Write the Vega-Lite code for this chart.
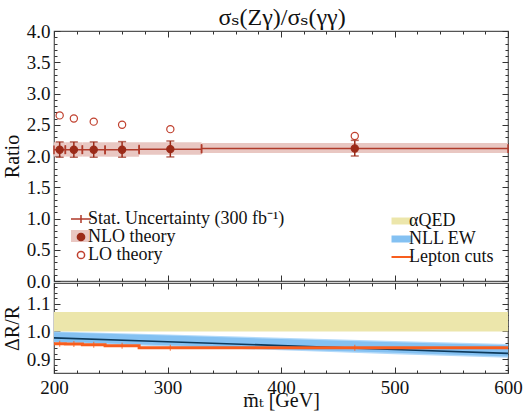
{
  "$schema": "https://vega.github.io/schema/vega-lite/v6.json",
  "background": "white",
  "padding": {"left": 1, "top": 6, "right": 4, "bottom": 0},
  "title": {"text": "σₛ(Zγ)/σₛ(γγ)", "font": "Liberation Serif, DejaVu Serif, serif", "fontSize": 24, "fontWeight": "normal", "color": "#111", "anchor": "middle", "offset": -9, "dx": 20},
  "config": {
    "font": "Liberation Serif",
    "title": {"font": "Liberation Serif, DejaVu Serif, serif"},
    "view": {"stroke": "#555", "strokeWidth": 1.2},
    "axis": {"labelFont": "Liberation Serif", "labelFontSize": 19, "labelColor": "#111", "titleFont": "Liberation Serif, DejaVu Serif, serif", "titleFontSize": 20, "titleFontWeight": "normal", "titleColor": "#111", "domain": false, "grid": false, "tickColor": "#333", "tickWidth": 1, "minExtent": 0, "labelPadding": 10, "labelFlush": false},
    "legend": {"labelFont": "Liberation Serif", "labelFontSize": 18, "labelColor": "#111", "labelLimit": 400, "symbolSize": 100, "padding": 0, "rowPadding": 0, "labelOffset": -2}
  },
  "datasets": {
    "bins": [
      {"x": 205, "x0": 200, "x1": 210, "nlo": 2.10, "blo": 1.99, "bhi": 2.22, "elo": 1.98, "ehi": 2.225, "slo": 2.03, "shi": 2.17},
      {"x": 217.5, "x0": 210, "x1": 225, "nlo": 2.10, "blo": 1.99, "bhi": 2.22, "elo": 1.98, "ehi": 2.225, "slo": 2.03, "shi": 2.17},
      {"x": 235, "x0": 225, "x1": 245, "nlo": 2.10, "blo": 1.99, "bhi": 2.22, "elo": 1.98, "ehi": 2.225, "slo": 2.03, "shi": 2.17},
      {"x": 260, "x0": 245, "x1": 275, "nlo": 2.10, "blo": 1.99, "bhi": 2.22, "elo": 1.98, "ehi": 2.23, "slo": 2.03, "shi": 2.17},
      {"x": 302.5, "x0": 275, "x1": 330, "nlo": 2.11, "blo": 2.02, "bhi": 2.22, "elo": 1.985, "ehi": 2.24, "slo": 2.04, "shi": 2.18},
      {"x": 465, "x0": 330, "x1": 600, "nlo": 2.12, "blo": 2.05, "bhi": 2.21, "elo": 2.0, "ehi": 2.25, "slo": 2.05, "shi": 2.19}
    ],
    "pts": [
      {"series": "NLO theory", "x": 205, "y": 2.10},
      {"series": "NLO theory", "x": 217.5, "y": 2.10},
      {"series": "NLO theory", "x": 235, "y": 2.10},
      {"series": "NLO theory", "x": 260, "y": 2.10},
      {"series": "NLO theory", "x": 302.5, "y": 2.11},
      {"series": "NLO theory", "x": 465, "y": 2.12},
      {"series": "LO theory", "x": 205, "y": 2.65},
      {"series": "LO theory", "x": 217.5, "y": 2.60},
      {"series": "LO theory", "x": 235, "y": 2.55},
      {"series": "LO theory", "x": 260, "y": 2.50},
      {"series": "LO theory", "x": 302.5, "y": 2.43},
      {"series": "LO theory", "x": 465, "y": 2.32}
    ],
    "alpha": [
      {"series": "αQED", "x0": 200, "x1": 600, "lo": 1.0, "hi": 1.07}
    ],
    "nll": [
      {"series": "NLL EW", "x": 200, "mid": 0.977, "ilo": 0.963, "ihi": 0.997, "olo": 0.960, "ohi": 1.0},
      {"series": "NLL EW", "x": 300, "mid": 0.963, "ilo": 0.950, "ihi": 0.985, "olo": 0.946, "ohi": 0.989},
      {"series": "NLL EW", "x": 400, "mid": 0.949, "ilo": 0.936, "ihi": 0.973, "olo": 0.932, "ohi": 0.977},
      {"series": "NLL EW", "x": 500, "mid": 0.935, "ilo": 0.923, "ihi": 0.961, "olo": 0.918, "ohi": 0.966},
      {"series": "NLL EW", "x": 600, "mid": 0.921, "ilo": 0.910, "ihi": 0.950, "olo": 0.905, "ohi": 0.955}
    ],
    "lep": [
      {"x": 200, "y": 0.956},
      {"x": 210, "y": 0.955},
      {"x": 225, "y": 0.952},
      {"x": 245, "y": 0.948},
      {"x": 275, "y": 0.941},
      {"x": 330, "y": 0.941},
      {"x": 600, "y": 0.941}
    ],
    "lepm": [
      {"x": 205, "y": 0.956},
      {"x": 217.5, "y": 0.955},
      {"x": 235, "y": 0.952},
      {"x": 260, "y": 0.948},
      {"x": 302.5, "y": 0.941},
      {"x": 465, "y": 0.941}
    ]
  },
  "spacing": 2,
  "bounds": "flush",
  "resolve": {
    "scale": {"fill": "independent", "stroke": "independent", "opacity": "independent", "shape": "independent"},
    "legend": {"fill": "independent", "stroke": "independent", "opacity": "independent", "shape": "independent"}
  },
  "vconcat": [
    {
      "width": 454,
      "height": 250,
      "layer": [
        {
          "data": {"name": "bins"},
          "mark": {"type": "rect", "color": "#e9c7c2"},
          "encoding": {
            "x": {"field": "x0", "type": "quantitative", "scale": {"domain": [200, 600], "nice": false, "zero": false}, "axis": {"orient": "bottom", "values": [200, 300, 400, 500, 600], "labels": false, "tickSize": -6, "title": null}},
            "x2": {"field": "x1"},
            "y": {"field": "blo", "type": "quantitative", "scale": {"domain": [0, 4], "nice": false, "zero": false}, "axis": {"orient": "left", "values": [0, 0.5, 1, 1.5, 2, 2.5, 3, 3.5, 4], "format": ".1f", "tickSize": -6, "title": "Ratio", "titlePadding": 4, "minExtent": 28, "maxExtent": 28}},
            "y2": {"field": "bhi"},
            "opacity": {"datum": "NLO theory", "type": "ordinal", "scale": {"range": [1]}, "legend": {"orient": "none", "legendX": 18, "legendY": 196, "title": null, "labelExpr": "''", "zindex": 0, "symbolType": "M-2,-1.2H2V1.2H-2Z", "symbolFillColor": "#e9c7c2", "symbolStrokeColor": "#e9c7c2", "symbolStrokeWidth": 0, "symbolSize": 100}}
          }
        },
        {
          "data": {"name": "bins"},
          "mark": {"type": "rule", "color": "#b03a2a", "strokeWidth": 1.5},
          "encoding": {
            "x": {"field": "x0", "type": "quantitative", "axis": {"orient": "top", "values": [200, 300, 400, 500, 600], "labels": false, "tickSize": -6, "title": null}},
            "x2": {"field": "x1"},
            "y": {"field": "nlo", "type": "quantitative", "axis": {"orient": "right", "values": [0, 0.5, 1, 1.5, 2, 2.5, 3, 3.5, 4], "labels": false, "tickSize": -6, "title": null}}
          }
        },
        {
          "data": {"name": "bins"},
          "mark": {"type": "rule", "color": "#b03a2a", "strokeWidth": 1.5},
          "encoding": {
            "x": {"field": "x0", "type": "quantitative", "axis": {"orient": "bottom", "values": [220, 240, 260, 280, 320, 340, 360, 380, 420, 440, 460, 480, 520, 540, 560, 580], "labels": false, "tickSize": -3, "title": null}},
            "y": {"field": "slo", "type": "quantitative", "axis": {"orient": "left", "values": [0.1, 0.2, 0.3, 0.4, 0.6, 0.7, 0.8, 0.9, 1.1, 1.2, 1.3, 1.4, 1.6, 1.7, 1.8, 1.9, 2.1, 2.2, 2.3, 2.4, 2.6, 2.7, 2.8, 2.9, 3.1, 3.2, 3.3, 3.4, 3.6, 3.7, 3.8, 3.9], "labels": false, "tickSize": -3, "title": null}},
            "y2": {"field": "shi"}
          }
        },
        {
          "data": {"name": "bins"},
          "mark": {"type": "rule", "color": "#b03a2a", "strokeWidth": 1.5},
          "encoding": {
            "x": {"field": "x1", "type": "quantitative", "axis": {"orient": "top", "values": [220, 240, 260, 280, 320, 340, 360, 380, 420, 440, 460, 480, 520, 540, 560, 580], "labels": false, "tickSize": -3, "title": null}},
            "y": {"field": "slo", "type": "quantitative", "axis": {"orient": "right", "values": [0.1, 0.2, 0.3, 0.4, 0.6, 0.7, 0.8, 0.9, 1.1, 1.2, 1.3, 1.4, 1.6, 1.7, 1.8, 1.9, 2.1, 2.2, 2.3, 2.4, 2.6, 2.7, 2.8, 2.9, 3.1, 3.2, 3.3, 3.4, 3.6, 3.7, 3.8, 3.9], "labels": false, "tickSize": -3, "title": null}},
            "y2": {"field": "shi"}
          }
        },
        {
          "data": {"name": "bins"},
          "mark": {"type": "rule", "color": "#9b2a18", "strokeWidth": 1.5},
          "encoding": {
            "x": {"field": "x", "type": "quantitative", "axis": null},
            "y": {"field": "elo", "type": "quantitative", "axis": null},
            "y2": {"field": "ehi"}
          }
        },
        {
          "data": {"name": "bins"},
          "mark": {"type": "tick", "color": "#9b2a18", "orient": "horizontal", "size": 8, "thickness": 1.5},
          "encoding": {
            "x": {"field": "x", "type": "quantitative", "axis": null},
            "y": {"field": "elo", "type": "quantitative", "axis": null}
          }
        },
        {
          "data": {"name": "bins"},
          "mark": {"type": "tick", "color": "#9b2a18", "orient": "horizontal", "size": 8, "thickness": 1.5},
          "encoding": {
            "x": {"field": "x", "type": "quantitative", "axis": null},
            "y": {"field": "ehi", "type": "quantitative", "axis": null}
          }
        },
        {
          "data": {"name": "pts"},
          "mark": {"type": "point", "size": 100, "strokeWidth": 1.2, "opacity": 1},
          "encoding": {
            "x": {"field": "x", "type": "quantitative", "axis": null},
            "y": {"field": "y", "type": "quantitative", "axis": null},
            "shape": {"field": "series", "type": "nominal", "scale": {"domain": ["Stat. Uncertainty (300 fb⁻¹)", "NLO theory", "LO theory"], "range": ["M-2,0H2M0,-0.8V0.8", "M0.72,0A0.72,0.72 0 1,1 -0.72,0A0.72,0.72 0 1,1 0.72,0Z", "M0.72,0A0.72,0.72 0 1,1 -0.72,0A0.72,0.72 0 1,1 0.72,0Z"]},
              "legend": {"orient": "none", "legendX": 18, "legendY": 179, "title": null, "zindex": 1, "symbolSize": 100}},
            "fill": {"field": "series", "type": "nominal", "scale": {"domain": ["Stat. Uncertainty (300 fb⁻¹)", "NLO theory", "LO theory"], "range": ["transparent", "#9b2a18", "white"]},
              "legend": {"orient": "none", "legendX": 18, "legendY": 179, "title": null, "zindex": 1, "symbolSize": 100}},
            "stroke": {"field": "series", "type": "nominal", "scale": {"domain": ["Stat. Uncertainty (300 fb⁻¹)", "NLO theory", "LO theory"], "range": ["#b03a2a", "#9b2a18", "#c0402e"]},
              "legend": {"orient": "none", "legendX": 18, "legendY": 179, "title": null, "zindex": 1, "symbolSize": 100}}
          }
        }
      ],
      "resolve": {"axis": {"x": "independent", "y": "independent"}}
    },
    {
      "width": 454,
      "height": 90,
      "layer": [
        {
          "data": {"name": "alpha"},
          "mark": {"type": "rect"},
          "encoding": {
            "x": {"field": "x0", "type": "quantitative", "scale": {"domain": [200, 600], "nice": false, "zero": false}, "axis": {"orient": "bottom", "values": [200, 300, 400, 500, 600], "tickSize": -6, "labelPadding": 11, "title": "m̄ₜ [GeV]", "titlePadding": -7}},
            "x2": {"field": "x1"},
            "y": {"field": "lo", "type": "quantitative", "scale": {"domain": [0.85, 1.175], "nice": false, "zero": false}, "axis": {"orient": "left", "values": [0.9, 1.0, 1.1], "format": ".1f", "tickSize": -6, "title": "ΔR/R", "titlePadding": 4, "minExtent": 28, "maxExtent": 28}},
            "y2": {"field": "hi"},
            "fill": {"field": "series", "type": "nominal", "scale": {"domain": ["αQED", "NLL EW", "Lepton cuts"], "range": ["#ece6ab", "#84c1f2", "#f85e1e"]},
              "legend": {"orient": "none", "legendX": 339, "legendY": -71, "title": null, "symbolSize": 100,
                "encode": {"symbols": {"update": {"shape": {"signal": "datum.value === 'Lepton cuts' ? 'M-2.1,-0.2H2.1V0.2H-2.1Z' : 'M-2.1,-0.7H2.1V0.7H-2.1Z'"}, "size": {"value": 100}, "strokeWidth": {"value": 0}}}}}}
          }
        },
        {
          "data": {"name": "nll"},
          "mark": {"type": "area", "color": "#b3dafa"},
          "encoding": {
            "x": {"field": "x", "type": "quantitative", "axis": {"orient": "top", "values": [200, 300, 400, 500, 600], "labels": false, "tickSize": -6, "title": null}},
            "y": {"field": "olo", "type": "quantitative", "axis": {"orient": "right", "values": [0.9, 1.0, 1.1], "labels": false, "tickSize": -6, "title": null}},
            "y2": {"field": "ohi"}
          }
        },
        {
          "data": {"name": "nll"},
          "mark": {"type": "area"},
          "encoding": {
            "x": {"field": "x", "type": "quantitative", "axis": {"orient": "bottom", "values": [220, 240, 260, 280, 320, 340, 360, 380, 420, 440, 460, 480, 520, 540, 560, 580], "labels": false, "tickSize": -3, "title": null}},
            "y": {"field": "ilo", "type": "quantitative", "axis": {"orient": "left", "values": [0.86, 0.88, 0.92, 0.94, 0.96, 0.98, 1.02, 1.04, 1.06, 1.08, 1.12, 1.14, 1.16], "labels": false, "tickSize": -3, "title": null}},
            "y2": {"field": "ihi"},
            "fill": {"field": "series", "type": "nominal"}
          }
        },
        {
          "data": {"name": "nll"},
          "mark": {"type": "line", "color": "#0d3a5c", "strokeWidth": 1.6},
          "encoding": {
            "x": {"field": "x", "type": "quantitative", "axis": {"orient": "top", "values": [220, 240, 260, 280, 320, 340, 360, 380, 420, 440, 460, 480, 520, 540, 560, 580], "labels": false, "tickSize": -3, "title": null}},
            "y": {"field": "mid", "type": "quantitative", "axis": {"orient": "right", "values": [0.86, 0.88, 0.92, 0.94, 0.96, 0.98, 1.02, 1.04, 1.06, 1.08, 1.12, 1.14, 1.16], "labels": false, "tickSize": -3, "title": null}}
          }
        },
        {
          "data": {"name": "lep"},
          "mark": {"type": "line", "color": "#f85e1e", "strokeWidth": 3, "interpolate": "step-after"},
          "encoding": {
            "x": {"field": "x", "type": "quantitative", "axis": null},
            "y": {"field": "y", "type": "quantitative", "axis": null}
          }
        },
        {
          "data": {"name": "lepm"},
          "mark": {"type": "tick", "color": "#f85e1e", "orient": "vertical", "size": 6, "thickness": 1.2},
          "encoding": {
            "x": {"field": "x", "type": "quantitative", "axis": null},
            "y": {"field": "y", "type": "quantitative", "axis": null}
          }
        }
      ],
      "resolve": {"axis": {"x": "independent", "y": "independent"}}
    }
  ]
}
